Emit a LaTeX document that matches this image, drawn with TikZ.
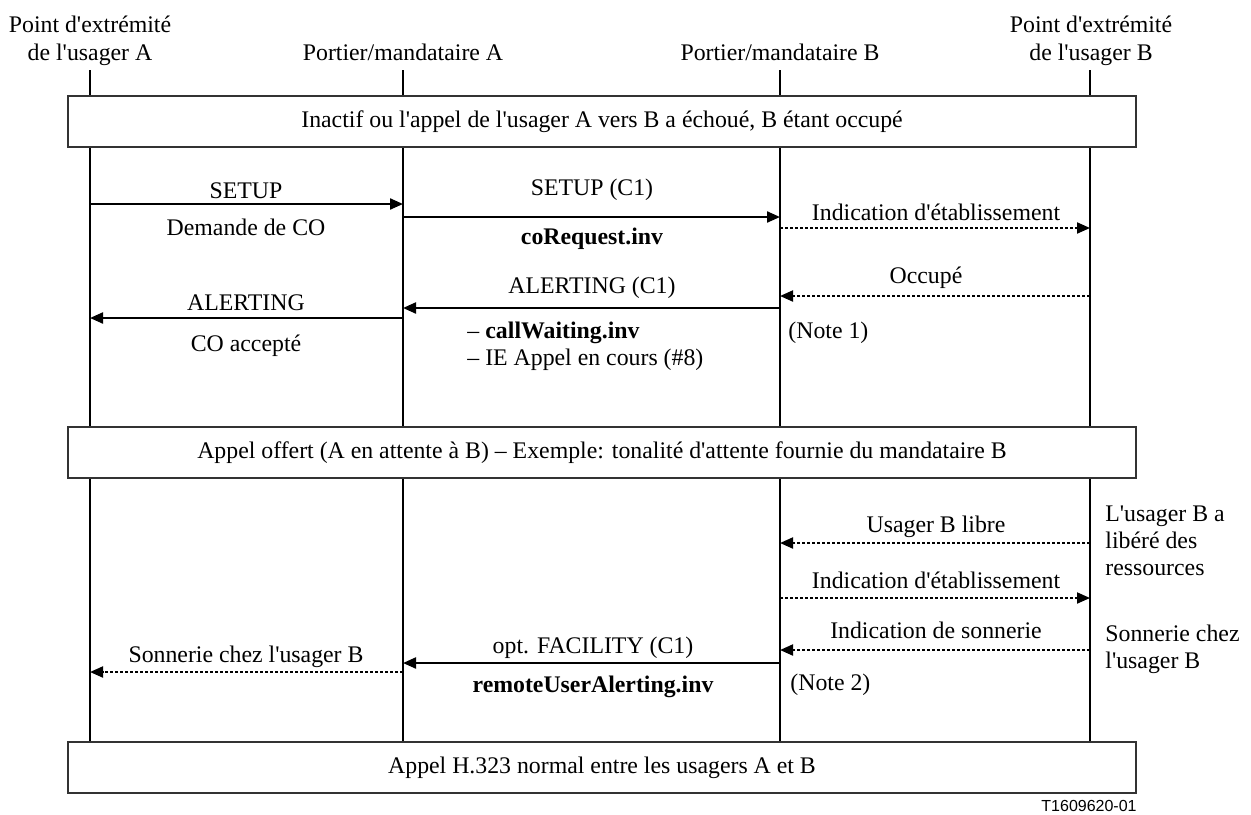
\documentclass[tikz,border=0pt]{standalone}
\usepackage{fontspec}
\setmainfont{Liberation Serif}[Ligatures=TeXOff]
\newfontfamily\figsans{Liberation Sans}
\usetikzlibrary{arrows.meta,backgrounds}

\begin{document}
\begin{tikzpicture}[x=0.5pt,y=-0.5pt,
  font=\fontsize{11.9pt}{14pt}\selectfont,
  >={Triangle[length=6.5pt,width=5.5pt]},
  life/.style={line width=1.3pt},
  msg/.style={->,line width=1.1pt},
  ind/.style={->,line width=1pt,dash pattern=on 1.5pt off 1pt},
  phase/.style={draw=black!80,line width=0.65pt,fill=white,minimum width=534pt,minimum height=25.5pt,inner sep=0pt},
  lbl/.style={anchor=base,inner sep=0pt},
  hdr/.style={align=center,anchor=base,inner sep=0pt},
  side/.style={align=left,anchor=base west,inner sep=0pt,font=\fontsize{11.9pt}{13.4pt}\selectfont}
]
\useasboundingbox (0,0) rectangle (1251,814);

% ---- entities ----
\node[hdr] (hA) at (90,60) {Point d'extrémité\\de l'usager A};
\node[lbl] (hGA) at (403,60) {Portier/mandataire A};
\node[lbl] (hGB) at (780,60) {Portier/mandataire B};
\node[hdr] (hB) at (1091,60) {Point d'extrémité\\de l'usager B};
\coordinate (lA) at (90,70);
\coordinate (lGA) at (403,70);
\coordinate (lGB) at (780,70);
\coordinate (lB) at (1090,70);

% ---- phases ----
\node[phase] (idle) at (602,121.5) {Inactif ou l'appel de l'usager A vers B a échoué, B étant occupé};
\node[phase] (offer) at (602,452.5) {Appel offert (A en attente à B) – Exemple: tonalité d'attente fournie du mandataire B};
\node[phase] (normal) at (602,767.5) {Appel H.323 normal entre les usagers A et B};

\begin{scope}[on background layer]
\foreach \l in {lA,lGA,lGB,lB}
  \draw[life] (\l) -- (\l |- normal.north);
\end{scope}

% ---- call attempt ----
\draw[msg] (lA |- 0,204) -- (lGA |- 0,204);
\node[lbl] (setA) at (246,198) {SETUP};
\node[lbl] (coreqA) at (246,235) {Demande de CO};
\draw[msg] (lGA |- 0,217) -- (lGB |- 0,217);
\node[lbl] (setC) at (592,195) {SETUP (C1)};
\node[lbl,font=\fontsize{11.9pt}{14pt}\selectfont\bfseries] (coreq) at (592,244) {coRequest.inv};
\draw[ind] (lGB |- 0,228) -- (lB |- 0,228);
\node[lbl] (indB) at (936,220) {Indication d'établissement};
\draw[ind] (lB |- 0,296) -- (lGB |- 0,296);
\node[lbl] (busy) at (926,283) {Occupé};
\draw[msg] (lGB |- 0,308) -- (lGA |- 0,308);
\node[lbl] (alertC) at (592,293) {ALERTING (C1)};
\node[anchor=base west,inner sep=0pt] (cw) at (467,338) {– \textbf{callWaiting.inv}};
\node[anchor=base west,inner sep=0pt] (ie) at (467,365) {– IE Appel en cours (\#8)};
\node[anchor=base west,inner sep=0pt] (note1) at (788,338) {(Note 1)};
\draw[msg] (lGA |- 0,318) -- (lA |- 0,318);
\node[lbl] (alertA) at (246,310) {ALERTING};
\node[lbl] (coacc) at (246,351) {CO accepté};

% ---- user B becomes free ----
\node[side] (freed) at (1105,575) {L'usager B a\\libéré des\\ressources};
\draw[ind] (lB |- 0,543) -- (lGB |- 0,543);
\node[lbl] (free) at (936,532) {Usager B libre};
\draw[ind] (lGB |- 0,598) -- (lB |- 0,598);
\node[lbl] (indB2) at (936,588) {Indication d'établissement};
\draw[ind] (lB |- 0,650) -- (lGB |- 0,650);
\node[lbl] (ring) at (936,638) {Indication de sonnerie};
\node[side] (ringB) at (1105,668) {Sonnerie chez\\l'usager B};
\draw[msg] (lGB |- 0,663) -- (lGA |- 0,663);
\node[lbl] (fac) at (593,653) {opt. FACILITY (C1)};
\node[lbl,font=\fontsize{11.9pt}{14pt}\selectfont\bfseries] (rua) at (593,692) {remoteUserAlerting.inv};
\node[anchor=base west,inner sep=0pt] (note2) at (790,690) {(Note 2)};
\draw[ind] (lGA |- 0,672) -- (lA |- 0,672);
\node[lbl] (ringA) at (246,662) {Sonnerie chez l'usager B};

\node[anchor=base east,inner sep=0pt,font=\figsans\fontsize{8pt}{9pt}\selectfont] (ref) at (1137,811) {T1609620-01};
\end{tikzpicture}
\end{document}
